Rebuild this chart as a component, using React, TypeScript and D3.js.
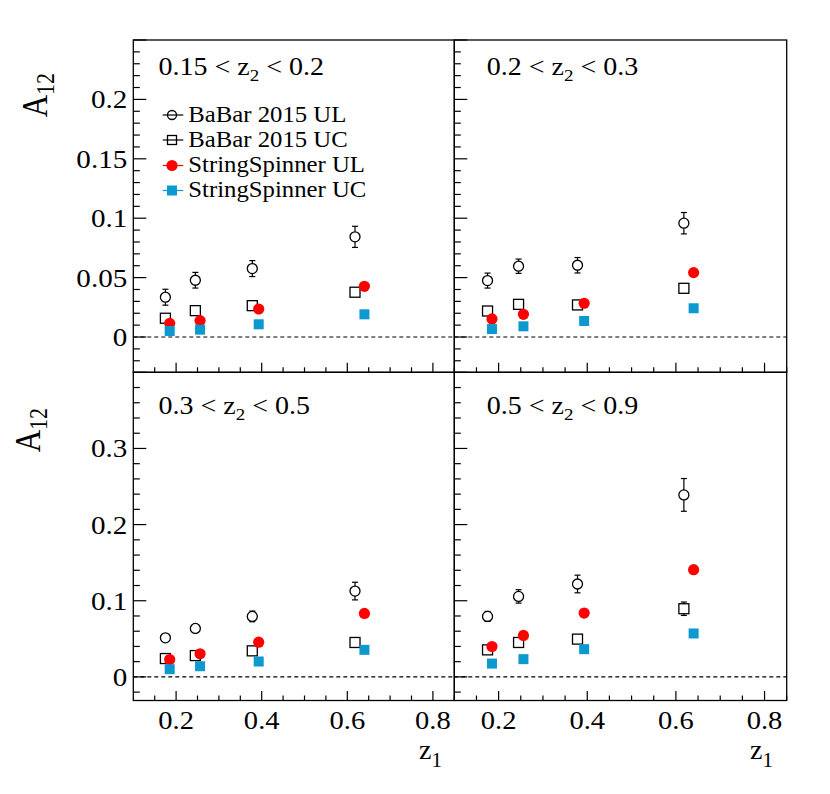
import React from "react";
import * as d3 from "d3";

// ---------- data ----------
const z1BaBar = [0.175, 0.245, 0.378, 0.618];
const z1SS = [0.185, 0.256, 0.393, 0.64];
const z2Lo = ["0.15", "0.2", "0.3", "0.5"];
const z2Hi = ["0.2", "0.3", "0.5", "0.9"];

const babarUL = [
  [0.0335, 0.0478, 0.0576, 0.0843],
  [0.0475, 0.0596, 0.0604, 0.0958],
  [0.0513, 0.0636, 0.0794, 0.1127],
  [0.0794, 0.1057, 0.122, 0.239],
];
const babarULErr = [
  [0.0067, 0.0066, 0.0067, 0.0089],
  [0.0063, 0.006, 0.0065, 0.009],
  [0.005, 0.005, 0.007, 0.0116],
  [0.0066, 0.0088, 0.0116, 0.0215],
];
const babarUC = [
  [0.0158, 0.0222, 0.0264, 0.0377],
  [0.0219, 0.0275, 0.027, 0.041],
  [0.0241, 0.028, 0.0342, 0.0452],
  [0.0355, 0.0452, 0.0496, 0.0895],
];
const babarUCErr = [
  [0.003, 0.003, 0.003, 0.004],
  [0.003, 0.003, 0.003, 0.004],
  [0.004, 0.004, 0.005, 0.006],
  [0.004, 0.005, 0.006, 0.0088],
];
const ssUL = [
  [0.0115, 0.0138, 0.0236, 0.0427],
  [0.0152, 0.0191, 0.0284, 0.0542],
  [0.0228, 0.0303, 0.0456, 0.0833],
  [0.0399, 0.0544, 0.0838, 0.1408],
];
const ssUC = [
  [0.0051, 0.0062, 0.0107, 0.0191],
  [0.0067, 0.009, 0.0135, 0.0242],
  [0.0101, 0.014, 0.0202, 0.0355],
  [0.0175, 0.0233, 0.0364, 0.057],
];

const yTopTicks = [0, 0.05, 0.1, 0.15, 0.2];
const yBotTicks = [0, 0.1, 0.2, 0.3];
const xTickLabels = [0.2, 0.4, 0.6, 0.8];
const legendLabels = ["BaBar 2015 UL", "BaBar 2015 UC", "StringSpinner UL", "StringSpinner UC"];

// ---------- style ----------
const FONT = "Liberation Serif";
const RED = "#ff0000";
const BLUE = "#0b99cf";
const SX = 1.12;

const colX = [
  [133.3, 454.3],
  [454.3, 786.7],
];
const rowY = [
  [40, 372.3],
  [372.3, 700.5],
];
const yDomains = [
  [-0.0297, 0.25],
  [-0.031, 0.4],
];

function fmt(v: number) {
  return v === 0 ? "0" : String(+v.toFixed(3));
}

function STxt({ x, y, size, anchor = "start", sx = SX, children }: any) {
  return (
    <text
      transform={`translate(${x},${y}) scale(${sx},1)`}
      fontFamily={FONT}
      fontSize={size}
      textAnchor={anchor}
      fill="#000"
    >
      {children}
    </text>
  );
}

function ErrBar({ cx, cy, y1, y2, r }: any) {
  const parts: any[] = [];
  if (cy - y1 > r) {
    parts.push(<line key="u" x1={cx} x2={cx} y1={y1} y2={cy - r} />);
    parts.push(<line key="uc" x1={cx - 3} x2={cx + 3} y1={y1} y2={y1} />);
  }
  if (y2 - cy > r) {
    parts.push(<line key="d" x1={cx} x2={cx} y1={cy + r} y2={y2} />);
    parts.push(<line key="dc" x1={cx - 3} x2={cx + 3} y1={y2} y2={y2} />);
  }
  return <g stroke="#000" strokeWidth={1.2}>{parts}</g>;
}

function Panel({ idx }: { idx: number }) {
  const row = Math.floor(idx / 2);
  const col = idx % 2;
  const [x0, x1] = colX[col];
  const [y0, y1] = rowY[row];
  const x = d3.scaleLinear().domain([0.1, 0.85]).range([x0, x1]);
  const y = d3.scaleLinear().domain(yDomains[row]).range([y1, y0]);

  const xMinor = d3.range(0.15, 0.851, 0.05);
  const yStep = row === 0 ? 0.01 : 0.02;
  const yMajorStep = row === 0 ? 0.05 : 0.1;
  const yMinor = d3.range(Math.ceil(yDomains[row][0] / yStep) * yStep, yDomains[row][1] + 1e-9, yStep);
  const isMajorY = (v: number) => Math.abs(v / yMajorStep - Math.round(v / yMajorStep)) < 1e-6;
  const isMajorX = (v: number) => Math.abs(v / 0.2 - Math.round(v / 0.2)) < 1e-6;

  const ul = babarUL[idx];
  const uc = babarUC[idx];
  return (
    <g>
      {/* dashed zero line */}
      <line x1={x0} x2={x1} y1={y(0)} y2={y(0)} stroke="#000" strokeWidth={1.2} strokeDasharray="4,3" />
      {/* ticks */}
      <g stroke="#000" strokeWidth={1.2}>
        {xMinor.map((v) => (
          <line key={v} x1={x(v)} x2={x(v)} y1={y1} y2={y1 - (isMajorX(v) ? 9.5 : 5)} />
        ))}
        {yMinor.map((v) => (
          <line key={"y" + v} x1={x0} x2={x0 + (isMajorY(v) ? 13 : 6.5)} y1={y(v)} y2={y(v)} />
        ))}
      </g>
      {/* y tick labels */}
      {col === 0 &&
        (row === 0 ? yTopTicks : yBotTicks).map((v) => (
          <STxt key={v} x={x0 - 6} y={y(v) + 9} size={26} anchor="end">
            {fmt(v)}
          </STxt>
        ))}
      {/* x tick labels */}
      {row === 1 &&
        xTickLabels.map((v) => (
          <STxt key={v} x={x(v)} y={729} size={25.5} anchor="middle">
            {fmt(v)}
          </STxt>
        ))}
      {/* data: BaBar UC squares */}
      {uc.map((v, i) => (
        <g key={"uc" + i}>
          <ErrBar cx={x(z1BaBar[i])} cy={y(v)} y1={y(v + babarUCErr[idx][i])} y2={y(v - babarUCErr[idx][i])} r={5} />
          <rect x={x(z1BaBar[i]) - 5} y={y(v) - 5} width={10} height={10} fill="none" stroke="#000" strokeWidth={1.3} />
        </g>
      ))}
      {/* BaBar UL circles */}
      {ul.map((v, i) => (
        <g key={"ul" + i}>
          <ErrBar cx={x(z1BaBar[i])} cy={y(v)} y1={y(v + babarULErr[idx][i])} y2={y(v - babarULErr[idx][i])} r={5} />
          <circle cx={x(z1BaBar[i])} cy={y(v)} r={5} fill="none" stroke="#000" strokeWidth={1.3} />
        </g>
      ))}
      {/* StringSpinner UL */}
      {ssUL[idx].map((v, i) => (
        <circle key={"sul" + i} cx={x(z1SS[i])} cy={y(v)} r={5.6} fill={RED} />
      ))}
      {/* StringSpinner UC */}
      {ssUC[idx].map((v, i) => (
        <rect key={"suc" + i} x={x(z1SS[i]) - 5} y={y(v) - 5} width={10} height={10} fill={BLUE} />
      ))}
      {/* panel label */}
      <STxt x={col === 0 ? 158.5 : 486.7} y={row === 0 ? 75 : 414} size={25} sx={1.12}>
        {z2Lo[idx]} {"<"} z
        <tspan fontSize={17} dy={6}>2</tspan>
        <tspan dy={-6}> {"<"} {z2Hi[idx]}</tspan>
      </STxt>
      {/* frame */}
      <rect x={x0} y={y0} width={x1 - x0} height={y1 - y0} fill="none" stroke="#000" strokeWidth={1.3} />
    </g>
  );
}

function Legend() {
  const lx = 172;
  const rows = [115, 140, 165.5, 190.5];
  const colors = ["#000", "#000", RED, BLUE];
  return (
    <g>
      {legendLabels.map((lab, i) => (
        <g key={lab}>
          <line x1={162.7} x2={183.3} y1={rows[i]} y2={rows[i]} stroke={colors[i]} strokeWidth={1.2} />
          {i === 0 && <circle cx={lx} cy={rows[i]} r={4.5} fill="none" stroke="#000" strokeWidth={1.3} />}
          {i === 1 && <rect x={lx - 4.5} y={rows[i] - 4.5} width={9} height={9} fill="none" stroke="#000" strokeWidth={1.3} />}
          {i === 2 && <circle cx={lx} cy={rows[i]} r={5.6} fill={RED} />}
          {i === 3 && <rect x={lx - 5} y={rows[i] - 5} width={10} height={10} fill={BLUE} />}
          <STxt x={188.3} y={rows[i] + 6.5} size={22.5} sx={1.1}>
            {lab}
          </STxt>
        </g>
      ))}
    </g>
  );
}

function YTitle({ x, y }: { x: number; y: number }) {
  return (
    <text
      transform={`translate(${x},${y}) scale(1.15,1) rotate(-90)`}
      fontFamily={FONT}
      fontSize={31}
      textAnchor="end"
    >
      A<tspan fontSize={22} dy={6}>12</tspan>
    </text>
  );
}

function XTitle({ x, y }: { x: number; y: number }) {
  return (
    <text x={x} y={y} fontFamily={FONT} fontSize={28} textAnchor="end">
      z<tspan fontSize={21} dy={8}>1</tspan>
    </text>
  );
}

export default function App() {
  return (
    <svg
      width={830}
      height={794}
      style={{ position: "absolute", left: 0, top: 0, background: "#fff" }}
    >
      <rect x={0} y={0} width={830} height={794} fill="#fff" />
      {[0, 1, 2, 3].map((i) => (
        <Panel key={i} idx={i} />
      ))}
      <Legend />
      <YTitle x={47} y={73} />
      <YTitle x={40} y={408} />
      <XTitle x={442} y={759} />
      <XTitle x={773} y={759} />
    </svg>
  );
}
